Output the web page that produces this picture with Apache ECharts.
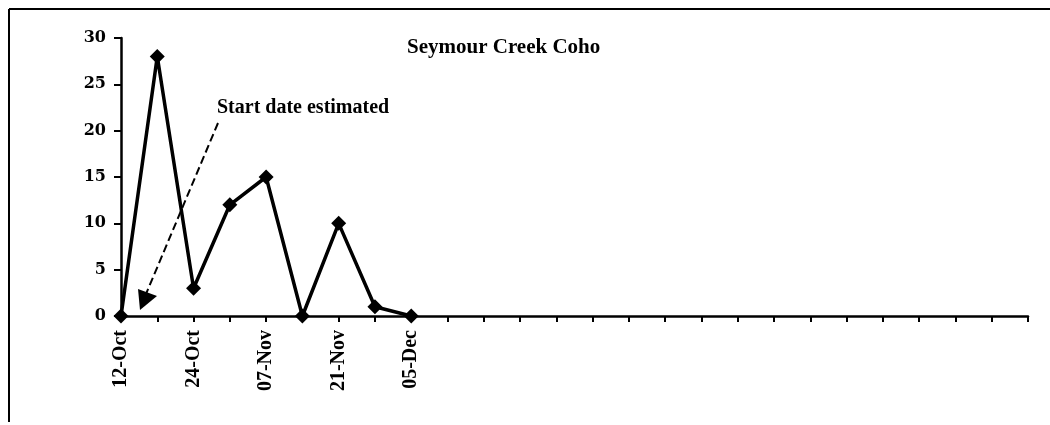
<!DOCTYPE html>
<html>
<head>
<meta charset="utf-8">
<script src="https://cdn.jsdelivr.net/npm/echarts@6/dist/echarts.min.js"></script>
<style>
  html, body { margin: 0; padding: 0; background: #fff; }
  #main { width: 1050px; height: 425px; }
</style>
</head>
<body>
<div id="main"></div>
<script>
// survey dates (only every other one is labelled on the axis)
const dateLabels = ['12-Oct', '17-Oct', '24-Oct', '31-Oct', '07-Nov', '14-Nov', '21-Nov', '28-Nov', '05-Dec'];
// the axis keeps running after the last survey, unlabelled
const blankSlots = ['', '', '', '', '', '', '', '', '', '', '', '', '', '', '', '', ''];
const cohoCounts = [0, 28, 3, 12, 15, 0, 10, 1, 0];

const serif = 'Liberation Serif, Times New Roman, serif';
const chart = echarts.init(document.getElementById('main'));

const option = {
    animation: false,
    backgroundColor: '#fff',
    title: {
        text: 'Seymour Creek Coho',
        left: 407,
        top: 37,
        padding: 0,
        textStyle: { fontFamily: serif, fontSize: 21, fontWeight: 'bold', color: '#000' }
    },
    grid: { left: 121, right: 22, top: 38, bottom: 109 },
    xAxis: {
        type: 'category',
        boundaryGap: false,
        data: dateLabels.concat(blankSlots),
        axisLine: { lineStyle: { color: '#000', width: 2.5 } },
        axisTick: { show: true, interval: 0, length: 6, lineStyle: { color: '#000', width: 2 } },
        axisLabel: {
            interval: 1,
            rotate: 90,
            margin: 14,
            fontFamily: serif,
            fontSize: 20,
            fontWeight: 'bold',
            color: '#000'
        },
        splitLine: { show: false }
    },
    yAxis: {
        type: 'value',
        min: 0,
        max: 30,
        interval: 5,
        axisLine: { show: true, lineStyle: { color: '#000', width: 2.5 } },
        axisTick: { show: true, length: 7, lineStyle: { color: '#000', width: 2 } },
        axisLabel: {
            margin: 15,
            fontFamily: 'DejaVu Serif, serif',
            fontSize: 16,
            fontWeight: 'bold',
            color: '#000'
        },
        splitLine: { show: false }
    },
    series: [{
        name: 'Coho',
        type: 'line',
        data: cohoCounts,
        symbol: 'diamond',
        symbolSize: 15,
        lineStyle: { color: '#000', width: 3.5 },
        itemStyle: { color: '#000' },
        z: 5
    }],
    graphic: [
        // frame of the original figure (top and left edges only)
        { type: 'line', shape: { x1: 9, y1: 9, x2: 1050, y2: 9 }, style: { stroke: '#000', lineWidth: 2 } },
        { type: 'line', shape: { x1: 9, y1: 9, x2: 9, y2: 422 }, style: { stroke: '#000', lineWidth: 2 } },
        // annotation
        {
            type: 'text', left: 217, top: 98,
            style: { text: 'Start date estimated', font: 'bold 20px ' + serif, fill: '#000' }
        },
        {
            type: 'line',
            shape: { x1: 218, y1: 123, x2: 146, y2: 294 },
            style: { stroke: '#000', lineWidth: 2, lineDash: [8, 4] }
        },
        {
            type: 'polygon',
            shape: { points: [[140, 310], [138, 289], [157, 296]] },
            style: { fill: '#000' }
        }
    ]
};

chart.setOption(option);
</script>
</body>
</html>
